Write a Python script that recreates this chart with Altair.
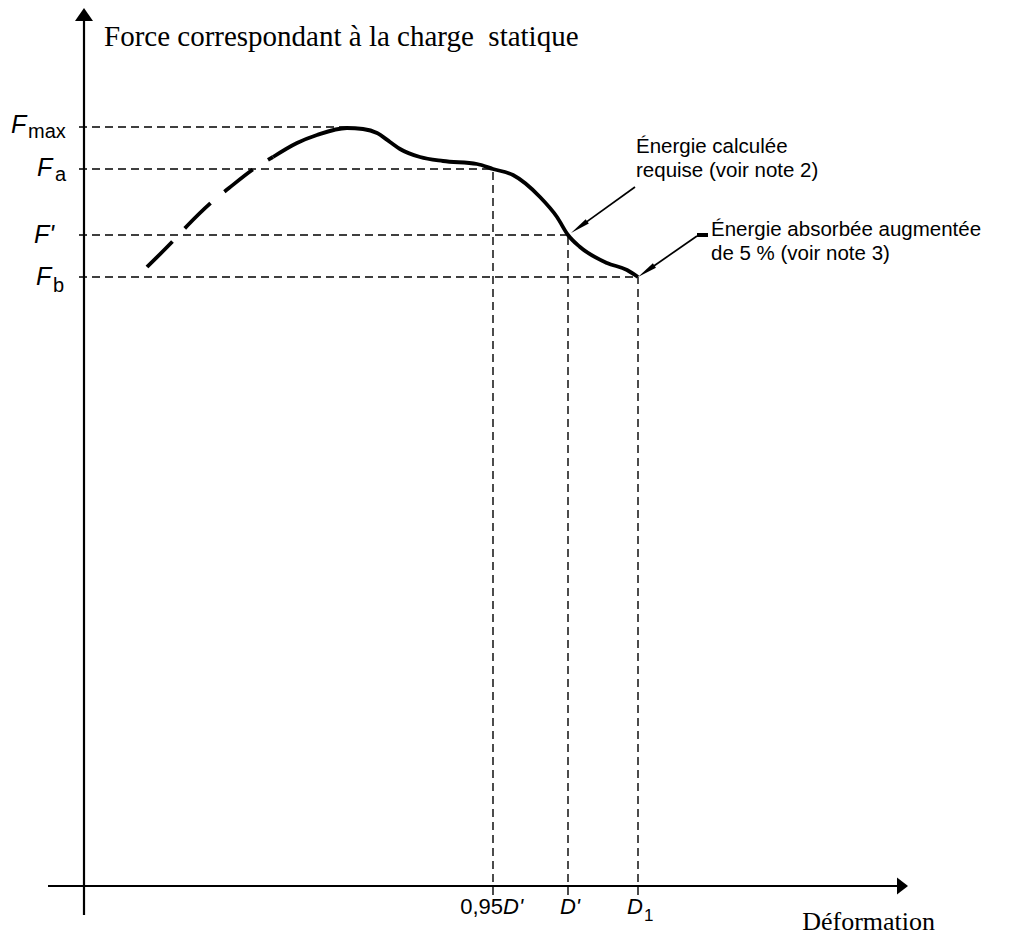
import math
import altair as alt
import pandas as pd

# ---------------- data (arbitrary units: deformation -> x, force -> y) ----------------
curve_dashed_x = [63, 88, 103, 129, 145, 174, 189]
curve_dashed_y = [619, 644, 660, 685, 698, 720, 729]

curve_x = [189, 213, 233, 263, 279, 293, 306, 316, 336, 359, 393, 409,
           429, 456, 473, 484, 496, 523, 543, 554]
curve_y = [729, 743, 751, 758, 757, 753, 744, 737, 729, 725, 722, 717,
           711, 689, 669, 651, 639, 623, 616, 609]

force_names = ["Fmax", "Fa", "F'", "Fb"]
force_values = [759, 717, 651, 609]
force_meet = [263, 409, 484, 554]          # deformation where each level meets the curve

deform_names = ["0,95D'", "D'", "D1"]
deform_values = [409, 484, 554]
deform_meet = [717, 651, 609]              # force where each deformation meets the curve

title_text = "Force correspondant à la charge\u00a0 statique"
xlabel_text = "Déformation"
note2_lines = ["Énergie calculée", "requise (voir note 2)"]
note3_lines = ["Énergie absorbée augmentée", "de 5 % (voir note 3)"]

# ---------------- layout ----------------
W, H = 1002, 929
XDOM = [-76, 926]
YDOM = [-51, 878]
xs = alt.Scale(domain=XDOM, nice=False, zero=False)
ys = alt.Scale(domain=YDOM, nice=False, zero=False)
SANS = "Liberation Sans"
SERIF = "Liberation Serif"


def X(f="x"):
    return alt.X(f, type="quantitative", scale=xs, axis=None)


def Y(f="y"):
    return alt.Y(f, type="quantitative", scale=ys, axis=None)


def X2(f="x2"):
    return alt.X2(f)


def Y2(f="y2"):
    return alt.Y2(f)


layers = []

# axes lines
axes_df = pd.DataFrame({"x": [0, -36], "x2": [0, 813], "y": [-29, 0], "y2": [865, 0]})
layers.append(alt.Chart(axes_df).mark_rule(color="black", strokeWidth=2.2)
              .encode(x=X(), x2=X2(), y=Y(), y2=Y2()))

# axis arrowheads
up_head = "M0,-0.72L1,0.72L-1,0.72Z"
right_head = "M0.65,0L-0.65,1L-0.65,-1Z"
layers.append(alt.Chart(pd.DataFrame({"x": [0], "y": [871.5]}))
              .mark_point(shape=up_head, filled=True, size=324, color="black", opacity=1, strokeWidth=0)
              .encode(x=X(), y=Y()))
layers.append(alt.Chart(pd.DataFrame({"x": [818.5], "y": [0]}))
              .mark_point(shape=right_head, filled=True, size=289, color="black", opacity=1, strokeWidth=0)
              .encode(x=X(), y=Y()))

# reference dashed lines
h_df = pd.DataFrame({"name": force_names, "y": force_values, "x2": force_meet})
h_df["x"] = -5
layers.append(alt.Chart(h_df).mark_rule(color="black", strokeWidth=1.4, strokeDash=[8, 5])
              .encode(x=X(), x2=X2(), y=Y()))
v_df = pd.DataFrame({"name": deform_names, "x": deform_values, "y2": deform_meet})
v_df["y"] = -9
layers.append(alt.Chart(v_df).mark_rule(color="black", strokeWidth=1.4, strokeDash=[8, 5])
              .encode(x=X(), y=Y(), y2=Y2()))

# curve
dashed_df = pd.DataFrame({"x": curve_dashed_x, "y": curve_dashed_y})
layers.append(alt.Chart(dashed_df).mark_line(color="black", strokeWidth=3.8, strokeDash=[36, 18],
                                              interpolate="monotone", strokeCap="butt")
              .encode(x=X(), y=Y(), order=alt.Order("x:Q")))
solid_df = pd.DataFrame({"x": curve_x, "y": curve_y})
layers.append(alt.Chart(solid_df).mark_line(color="black", strokeWidth=3.8, interpolate="monotone")
              .encode(x=X(), y=Y(), order=alt.Order("x:Q")))


def text_layer(xv, yv, txt, size, dx=0, dy=0, align="left", family=SANS, style="normal"):
    return (alt.Chart(pd.DataFrame({"x": [xv], "y": [yv], "t": [txt]}))
            .mark_text(align=align, baseline="alphabetic", fontSize=size, font=family,
                       fontStyle=style, color="black", dx=dx, dy=dy)
            .encode(x=X(), y=Y(), text=alt.Text("t:N")))


# force labels on the left (main italic F + upright subscript)
force_label_layout = {
    "Fmax": [("F", -73, 6, 25, "italic"), ("max", -56, 11, 20, "normal")],
    "Fa": [("F", -47, 7, 25, "italic"), ("a", -29, 12, 20, "normal")],
    "F'": [("F'", -50, 8, 25, "italic")],
    "Fb": [("F", -48, 8, 25, "italic"), ("b", -31, 15, 20, "normal")],
}
for name, val in zip(force_names, force_values):
    for txt, ddx, ddy, sz, st in force_label_layout[name]:
        layers.append(text_layer(0, val, txt, sz, dx=ddx, dy=ddy, style=st))

# deformation labels below the x axis
deform_label_layout = {
    "0,95D'": [("0,95", 10, 28, 22, "normal", "right"), ("D'", 10, 28, 22, "italic", "left")],
    "D'": [("D'", 2, 28, 22, "italic", "center")],
    "D1": [("D", -11, 28, 22, "italic", "left"), ("1", 6, 35, 17, "normal", "left")],
}
for name, val in zip(deform_names, deform_values):
    for txt, ddx, ddy, sz, st, al in deform_label_layout[name]:
        layers.append(text_layer(val, 0, txt, sz, dx=ddx, dy=ddy, style=st, align=al))

# axis titles
layers.append(text_layer(20, 840, title_text, 29, family=SERIF))
layers.append(text_layer(851, -44, xlabel_text, 26, family=SERIF, align="right"))

# annotation notes
layers.append(text_layer(552, 733, note2_lines[0], 20.5))
layers.append(text_layer(552, 709, note2_lines[1], 20.5))
layers.append(text_layer(627, 650, note3_lines[0], 20.5))
layers.append(text_layer(627, 626, note3_lines[1], 20.5))


def arrow(start, tip, head_len=20):
    dx, dy = tip[0] - start[0], tip[1] - start[1]
    L = math.hypot(dx, dy)
    ux, uy = dx / L, dy / L
    end = (tip[0] - ux * (head_len - 6), tip[1] - uy * (head_len - 6))
    centre = (tip[0] - ux * head_len / 2, tip[1] - uy * head_len / 2)
    ang = math.degrees(math.atan2(ux, uy)) % 360
    line = (alt.Chart(pd.DataFrame({"x": [start[0]], "y": [start[1]], "x2": [end[0]], "y2": [end[1]]}))
            .mark_rule(color="black", strokeWidth=1.7)
            .encode(x=X(), y=Y(), x2=X2(), y2=Y2()))
    head = (alt.Chart(pd.DataFrame({"x": [centre[0]], "y": [centre[1]]}))
            .mark_point(shape="M0,-1L0.27,1L-0.27,1Z", filled=True, size=head_len ** 2,
                        color="black", opacity=1, strokeWidth=0, angle=ang)
            .encode(x=X(), y=Y()))
    return [line, head]


# arrow to (D', F') and to (D1, Fb)
layers += arrow((551, 699), (deform_values[1] + 3, force_values[2] + 2))
layers += arrow((613, 650), (deform_values[2], force_values[3]))
layers.append(alt.Chart(pd.DataFrame({"x": [613], "x2": [624], "y": [651]}))
              .mark_rule(color="black", strokeWidth=4)
              .encode(x=X(), x2=X2(), y=Y()))

chart = (alt.layer(*layers)
         .properties(width=W, height=H, padding=0, background="white",
                     autosize=alt.AutoSizeParams(type="none"))
         .configure_view(stroke=None))

chart.save("out.html", embed_options={"renderer": "svg", "actions": False})
